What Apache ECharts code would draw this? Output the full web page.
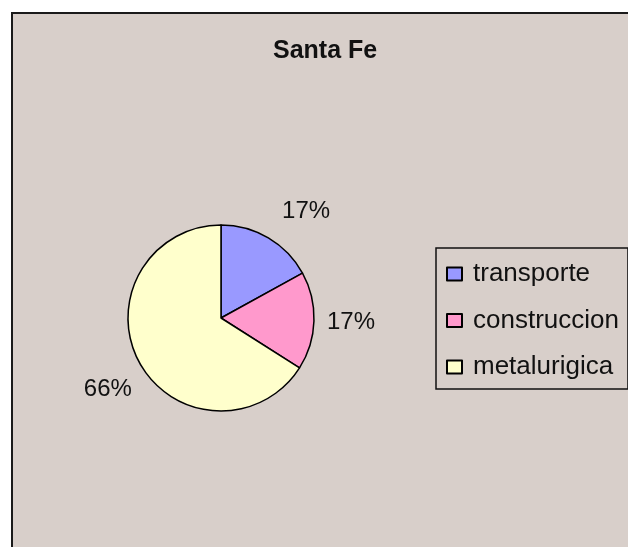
<!DOCTYPE html>
<html>
<head>
<meta charset="utf-8">
<script src="https://cdn.jsdelivr.net/npm/echarts@6/dist/echarts.min.js"></script>
<style>
  html, body { margin: 0; padding: 0; background: #ffffff; }
  #chart { width: 628px; height: 547px; }
</style>
</head>
<body>
<div id="chart"></div>
<script>
const titleText = 'Santa Fe';
const categories = ['transporte', 'construccion', 'metalurigica'];
const values = [17, 17, 66];
const sliceColors = ['#9999FF', '#FF99CC', '#FFFFCC'];
const labelNudges = [[0, -3], [-14, 1], [16, 14]];

const chart = echarts.init(document.getElementById('chart'), null, { renderer: 'canvas' });

const option = {
  backgroundColor: '#ffffff',
  animation: false,
  graphic: [{
    type: 'rect',
    shape: { x: 12, y: 13, width: 700, height: 700 },
    style: { fill: '#D8CFCA', stroke: '#1a1a1a', lineWidth: 2 },
    z: -10
  }],
  title: {
    text: titleText,
    left: 273,
    top: 39,
    padding: 0,
    textStyle: {
      fontFamily: 'Liberation Sans, Arial, sans-serif',
      fontSize: 25,
      fontWeight: 'bold',
      color: '#111111'
    }
  },
  legend: {
    orient: 'vertical',
    left: 436,
    top: 248,
    padding: [13, 9, 9, 10],
    itemGap: 20.5,
    itemWidth: 15,
    itemHeight: 13,
    icon: 'rect',
    borderColor: '#111111',
    borderWidth: 1.5,
    backgroundColor: 'transparent',
    data: categories,
    textStyle: {
      fontFamily: 'Liberation Sans, Arial, sans-serif',
      fontSize: 26,
      lineHeight: 26,
      color: '#111111',
      padding: [0, 0, 0, 6]
    }
  },
  series: [{
    type: 'pie',
    center: [221, 318],
    radius: 93,
    startAngle: 90,
    clockwise: true,
    avoidLabelOverlap: false,
    itemStyle: { borderColor: '#000000', borderWidth: 1.5 },
    label: {
      show: true,
      position: 'outside',
      formatter: '{c}%',
      distanceToLabelLine: 0,
      fontFamily: 'Liberation Sans, Arial, sans-serif',
      fontSize: 24,
      color: '#111111'
    },
    labelLine: { show: false, length: 27, length2: 0 },
    emphasis: { disabled: true },
    data: categories.map((name, i) => ({
      name: name,
      value: values[i],
      itemStyle: { color: sliceColors[i] },
      label: { offset: labelNudges[i] }
    }))
  }]
};

chart.setOption(option);
</script>
</body>
</html>
